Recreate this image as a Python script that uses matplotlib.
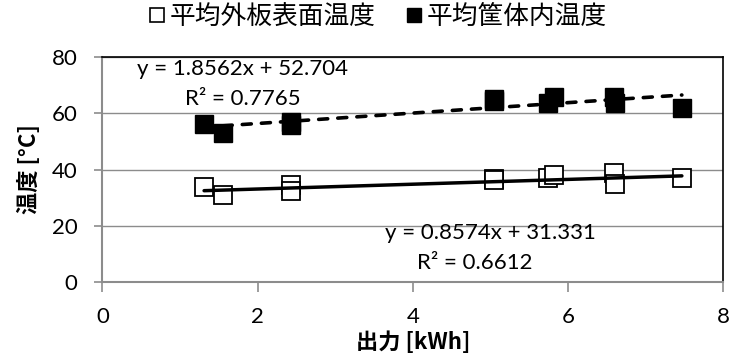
import matplotlib.pyplot as plt
from matplotlib.lines import Line2D
import numpy as np

# Measured output [kWh] and temperatures [°C]
output_kwh = [1.31, 1.55, 2.43, 2.43, 5.05, 5.05, 5.75, 5.82, 6.59, 6.61, 7.47]
surface_temp = [33.8, 30.8, 34.4, 32.2, 36.6, 36.2, 37.1, 38.2, 38.6, 35.0, 36.8]
inner_temp = [56.1, 52.9, 56.9, 55.8, 64.5, 65.0, 63.6, 65.7, 65.9, 63.8, 62.0]

# Linear trendlines (slope, intercept, R^2)
surface_fit = (0.8574, 31.331, 0.6612)
inner_fit = (1.8562, 52.704, 0.7765)

x_ticks = [0, 2, 4, 6, 8]
y_ticks = [0, 20, 40, 60, 80]
series_names = ['平均外板表面温度', '平均筐体内温度']

JP_FONT = ['Noto Sans CJK JP', 'DejaVu Sans']
NUM_FONT = ['Lato', 'DejaVu Sans']
GRID_GRAY = '#8c8c8c'
FS = 16

plt.rcParams['font.family'] = NUM_FONT

fig = plt.figure(figsize=(7.4, 3.63), dpi=100)
ax = fig.add_axes([0.1385, 0.224, 0.977 - 0.1385, 0.842 - 0.224])

# markers
ax.plot(output_kwh, surface_temp, linestyle='none', marker='s', markersize=12.3,
        markerfacecolor='white', markeredgecolor='black', markeredgewidth=1.3, zorder=3)
ax.plot(output_kwh, inner_temp, linestyle='none', marker='s', markersize=12.3,
        markerfacecolor='black', markeredgecolor='black', zorder=3)

# trendlines over the data range
xs = np.array([min(output_kwh), max(output_kwh)])
ax.plot(xs, surface_fit[0] * xs + surface_fit[1], color='black', lw=2.5,
        solid_capstyle='round', zorder=4)
ax.plot(xs, inner_fit[0] * xs + inner_fit[1], color='black', lw=2.6,
        linestyle=(0, (2.5, 2.8)), dash_capstyle='round', zorder=4)

# trendline equations
ax.text(0.445, 73.7, f'y = {inner_fit[0]}x + {inner_fit[1]}', fontsize=FS,
        ha='left', va='baseline')
ax.text(1.06, 63.0, f'R² = {inner_fit[2]}', fontsize=FS, ha='left', va='baseline')
ax.text(3.64, 15.1, f'y = {surface_fit[0]}x + {surface_fit[1]}', fontsize=FS,
        ha='left', va='baseline')
ax.text(4.05, 4.4, f'R² = {surface_fit[2]}', fontsize=FS, ha='left', va='baseline')

ax.set_xlim(0, 8)
ax.set_ylim(0, 80)
ax.set_xticks(x_ticks)
ax.set_yticks(y_ticks)
ax.tick_params(axis='x', labelsize=FS, color=GRID_GRAY, length=7, width=1.2, pad=11)
ax.tick_params(axis='y', labelsize=FS, color=GRID_GRAY, length=6, width=1.2, pad=12)
ax.yaxis.grid(True, color=GRID_GRAY, lw=1)
ax.set_axisbelow(True)

for side in ['left', 'bottom']:
    ax.spines[side].set_color(GRID_GRAY)
    ax.spines[side].set_linewidth(1.5)
for side in ['top', 'right']:
    ax.spines[side].set_color('black')
    ax.spines[side].set_linewidth(1.2)

ax.set_xlabel('出力 [kWh]', family=JP_FONT, fontsize=FS, fontweight='bold', labelpad=3)
ax.set_ylabel('温度 [°C]', family=JP_FONT, fontsize=FS, fontweight='bold', labelpad=8)

handles = [
    Line2D([], [], linestyle='none', marker='s', markersize=10.5,
           markerfacecolor='white', markeredgecolor='black', markeredgewidth=1.2),
    Line2D([], [], linestyle='none', marker='s', markersize=10.5,
           markerfacecolor='black', markeredgecolor='black'),
]
fig.legend(handles, series_names, loc='center', bbox_to_anchor=(0.509, 0.952),
           ncol=2, frameon=False, handletextpad=0.1, handlelength=0.8,
           columnspacing=1.1, borderpad=0, borderaxespad=0,
           prop={'family': JP_FONT, 'size': 18.5})

fig.savefig('out.png', dpi=100, facecolor='white')
